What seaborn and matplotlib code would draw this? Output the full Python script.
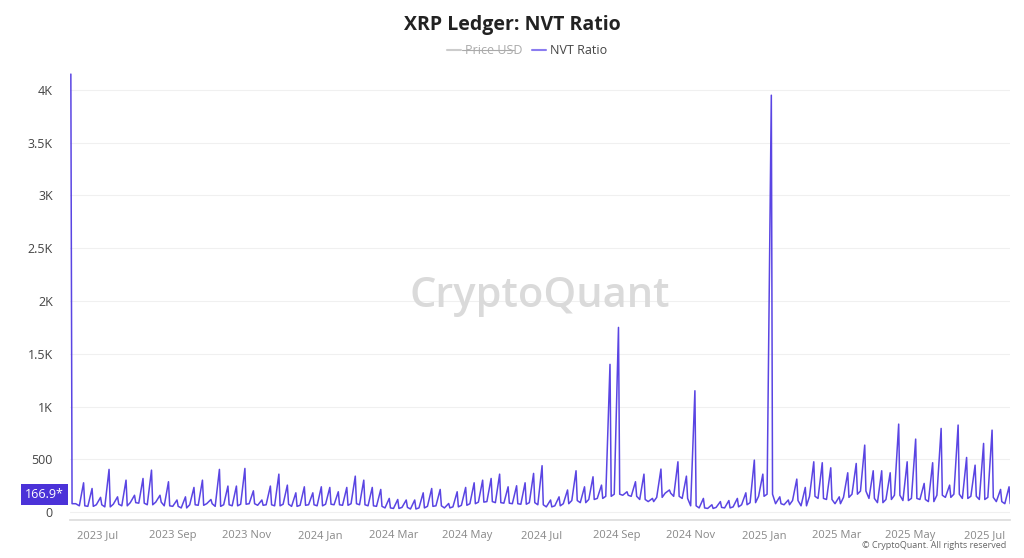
import numpy as np
import pandas as pd
import matplotlib
matplotlib.use("Agg")
import matplotlib.pyplot as plt
import matplotlib.dates as mdates
import seaborn as sns

# weekly high / low of the NVT ratio (first week starts 2023-06-09)
START = "2023-06-09"
weekly_peak = [4150, 278, 224, 140, 405, 145, 303, 160, 319, 398, 160, 288, 115, 145, 234, 303,
               120, 405, 247, 247, 414, 202, 115, 247, 360, 256, 183, 240, 183, 240, 234, 193,
               234, 341, 303, 234, 215, 130, 120, 115, 115, 183, 224, 215, 82, 193, 234, 278,
               303, 319, 360, 240, 250, 278, 367, 440, 115, 145, 210, 392, 240, 335, 256, 1400,
               1750, 193, 288, 360, 130, 408, 210, 477, 341, 1150, 130, 70, 100, 110, 130, 183,
               493, 360, 3950, 145, 115, 313, 234, 477, 468, 420, 145, 373, 461, 635, 392, 392,
               373, 834, 477, 692, 272, 468, 793, 256, 825, 518, 445, 651, 777, 215, 240]
weekly_low = [80, 60, 55, 70, 50, 75, 60, 90, 85, 70, 95, 60, 55, 40, 70, 65,
              80, 55, 70, 60, 75, 80, 65, 70, 60, 75, 55, 65, 70, 60, 75, 70,
              65, 80, 70, 60, 55, 40, 35, 45, 30, 40, 55, 60, 40, 50, 65, 80,
              95, 100, 90, 85, 80, 75, 90, 70, 50, 60, 80, 110, 90, 120, 130, 150,
              170, 160, 150, 120, 100, 140, 180, 150, 130, 60, 40, 35, 45, 40, 50, 70,
              90, 150, 170, 80, 70, 110, 60, 150, 130, 120, 80, 140, 170, 200, 130, 90,
              120, 160, 110, 130, 120, 100, 160, 140, 170, 130, 150, 120, 140, 100, 80]

dates, values = [], []
t0 = pd.Timestamp(START)
for w, (hi, lo) in enumerate(zip(weekly_peak, weekly_low)):
    day = t0 + pd.Timedelta(days=7 * w)
    if w == 0:
        dates += [day, day + pd.Timedelta(days=1), day + pd.Timedelta(days=4)]
        values += [hi, lo, lo]
        continue
    dates += [day, day + pd.Timedelta(days=3.5), day + pd.Timedelta(days=4.5)]
    values += [lo, hi, lo]
df = pd.DataFrame({"date": dates, "nvt": values})

sns.set_theme(style="white")
plt.rcParams["font.family"] = ["Open Sans", "DejaVu Sans"]

LINE = "#5a45e3"

fig = plt.figure(figsize=(10.24, 5.58), dpi=100)
ax = fig.add_axes([0.068, 0.068, 0.918, 0.803])
sns.lineplot(data=df, x="date", y="nvt", color=LINE, lw=1.1, ax=ax)

ax.set_xlim(pd.Timestamp("2023-06-08"), pd.Timestamp("2025-07-22"))
ax.set_ylim(-75, 4170)
ax.set_yticks([0, 500, 1000, 1500, 2000, 2500, 3000, 3500, 4000])
ax.set_yticklabels(["0", "500", "1K", "1.5K", "2K", "2.5K", "3K", "3.5K", "4K"])
ax.yaxis.grid(True, color="#f0f0f0", lw=0.8)
ax.xaxis.set_major_locator(mdates.MonthLocator(bymonth=[1, 3, 5, 7, 9, 11]))
ax.xaxis.set_major_formatter(mdates.DateFormatter("%Y %b"))
ax.tick_params(axis="x", colors="#888888", labelsize=8, length=4, width=0.6, color="#dddddd")
ax.tick_params(axis="y", colors="#444444", labelsize=9, length=0, pad=12)
ax.set_xlabel("")
ax.set_ylabel("")
for s in ["top", "right", "left"]:
    ax.spines[s].set_visible(False)
ax.spines["bottom"].set_color("#dddddd")

# current value marker on the y axis
ax.text(-0.006, 166.9, "166.9*", transform=ax.get_yaxis_transform(), ha="right", va="center",
        color="white", fontsize=9, bbox=dict(boxstyle="square,pad=0.35", fc="#4b32d8", ec="none"))

ax.text(0.5, 0.5, "CryptoQuant", transform=ax.transAxes, ha="center", va="center",
        fontsize=30, color="#dadada", fontweight="semibold")

fig.text(0.5, 0.955, "XRP Ledger: NVT Ratio", ha="center", va="center", fontsize=14, fontweight="bold",
         color="#222222")
fig.add_artist(plt.Line2D([0.437, 0.450], [0.91, 0.91], color="#cccccc", lw=1.5))
fig.text(0.454, 0.91, "Price USD", ha="left", va="center", fontsize=9, color="#aaaaaa")
fig.add_artist(plt.Line2D([0.451, 0.502], [0.911, 0.911], color="#aaaaaa", lw=0.8))
fig.add_artist(plt.Line2D([0.520, 0.533], [0.91, 0.91], color="#8b7cf0", lw=1.5))
fig.text(0.537, 0.91, "NVT Ratio", ha="left", va="center", fontsize=9, color="#444444")
fig.text(0.983, 0.022, "© CryptoQuant. All rights reserved", ha="right", va="center", fontsize=6.5,
         color="#666666")

fig.savefig("out.png", dpi=100, facecolor="white")
